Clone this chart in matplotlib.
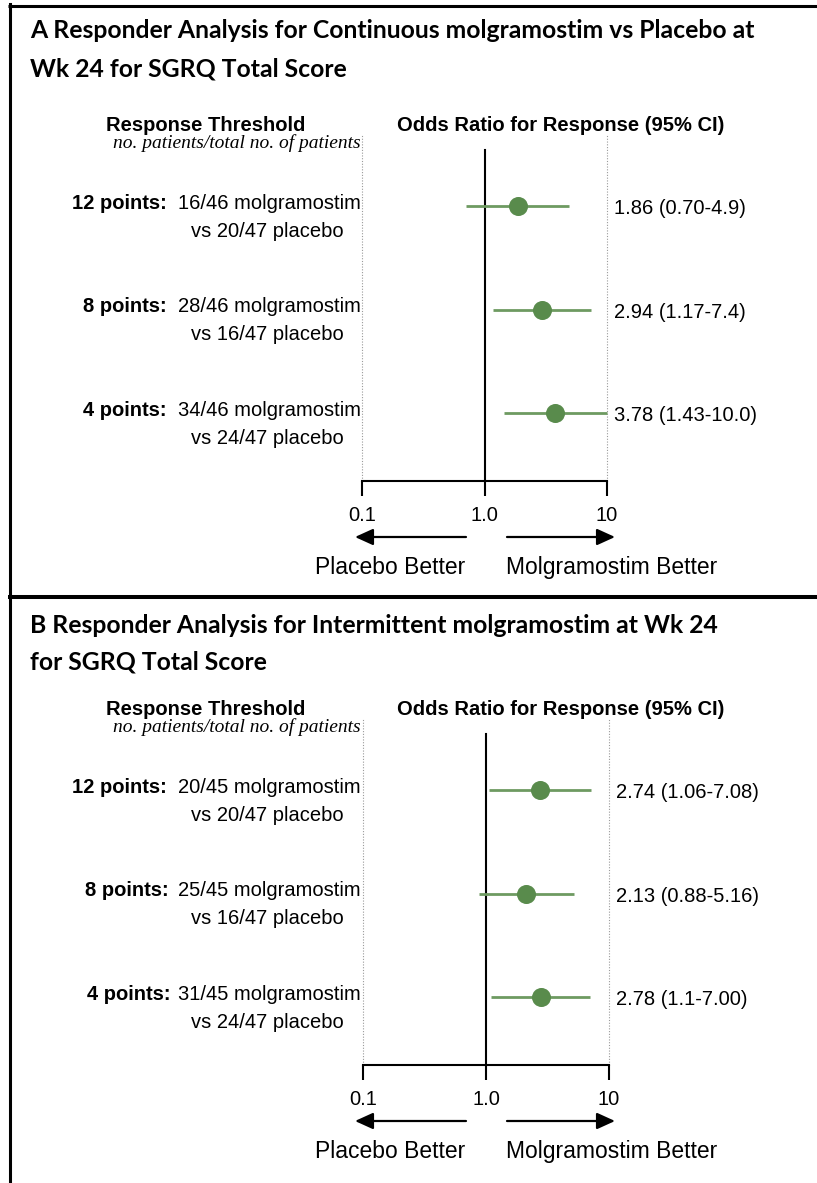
"""Forest plots: responder analysis for SGRQ total score at week 24."""
import matplotlib
matplotlib.use("Agg")
import matplotlib.pyplot as plt
from matplotlib.lines import Line2D
from matplotlib.patches import FancyArrowPatch
from matplotlib.ticker import NullLocator

W, H = 817, 1183

thresholds = ["12 points:", "8 points:", "4 points:"]

# Continuous molgramostim vs placebo
cont_mol = ["16/46", "28/46", "34/46"]
cont_pbo = ["20/47", "16/47", "24/47"]
cont_or = ["1.86", "2.94", "3.78"]
cont_lo = ["0.70", "1.17", "1.43"]
cont_hi = ["4.9", "7.4", "10.0"]

# Intermittent molgramostim vs placebo
int_mol = ["20/45", "25/45", "31/45"]
int_pbo = ["20/47", "16/47", "24/47"]
int_or = ["2.74", "2.13", "2.78"]
int_lo = ["1.06", "0.88", "1.1"]
int_hi = ["7.08", "5.16", "7.00"]

ticks = [0.1, 1.0, 10]
tick_labels = ["0.1", "1.0", "10"]

SANS = ["Liberation Sans", "DejaVu Sans"]
TITLE_FONT = ["Lato", "DejaVu Sans"]
SERIF = ["Liberation Serif", "DejaVu Serif"]
DOT = "#598b4c"
BAR = "#6e9a61"

plt.rcParams.update({
    "font.family": SANS,
    "font.size": 14.5,
})

fig = plt.figure(figsize=(W / 100, H / 100), dpi=100)


def fx(x):
    return x / W


def fy(y):
    return 1 - y / H


def txt(x, y, s, **kw):
    kw.setdefault("va", "baseline")
    fig.text(fx(x), fy(y), s, **kw)


def hline(x0, x1, y, lw):
    fig.add_artist(Line2D([fx(x0), fx(x1)], [fy(y), fy(y)], color="black",
                          lw=lw, transform=fig.transFigure, solid_capstyle="butt"))


def arrow(x_tail, x_head, y):
    fig.add_artist(FancyArrowPatch((fx(x_tail), fy(y)), (fx(x_head), fy(y)),
                                   transform=fig.transFigure,
                                   arrowstyle="-|>,head_length=1.1,head_width=0.5",
                                   mutation_scale=10, lw=1.6, color="black",
                                   shrinkA=0, shrinkB=0))


def panel(title, title_y, dy, mol, pbo, odds, lo, hi, x0, x1, lab_right):
    # title (two lines)
    for line, ty in zip(title, title_y):
        txt(30, ty, line, fontsize=17.8, fontweight="bold", family=TITLE_FONT)

    # column headings
    txt(206, 131 + dy, "Response Threshold", ha="center", fontweight="bold")
    txt(361, 148 + dy, "no. patients/total no. of patients", ha="right",
        family=SERIF, style="italic", fontsize=14)
    txt(561, 131 + dy, "Odds Ratio for Response (95% CI)",
        ha="center", fontweight="bold")

    # forest axes
    top, bottom, row0, step = 135 + dy, 481 + dy, 206 + dy, 103.5
    ax = fig.add_axes([fx(x0), fy(bottom), (x1 - x0) / W, (bottom - top) / H])
    ax.set_xscale("log")
    ax.set_xlim(0.1, 10)
    ax.set_ylim((bottom - row0) / step, (top - row0) / step)
    ax.set_facecolor("none")
    for side in ("top", "left", "right"):
        ax.spines[side].set_visible(False)
    ax.spines["bottom"].set_linewidth(1.5)
    ax.set_yticks([])
    ax.set_xticks(ticks)
    ax.set_xticklabels(tick_labels)
    ax.xaxis.set_minor_locator(NullLocator())
    ax.tick_params(axis="x", length=11, width=1.5, pad=7, labelsize=14.5)

    ymin, ymax = ax.get_ylim()
    for xv in (0.1, 10):
        ax.axvline(xv, color="#9a9a9a", lw=0.8, ls=(0, (1, 1.5)), clip_on=False)
    ax.plot([1, 1], [ymin, (150 + dy - row0) / step], color="black", lw=1.5,
            clip_on=False)

    for i in range(len(odds)):
        ax.plot([float(lo[i]), float(hi[i])], [i, i], color=BAR, lw=2,
                solid_capstyle="butt", clip_on=False, zorder=3)
        ax.plot(float(odds[i]), i, "o", ms=13.7, color=DOT, mec="none",
                clip_on=False, zorder=4)
        ry = row0 + step * i
        txt(x1 + 7, ry + 8, f"{odds[i]} ({lo[i]}-{hi[i]})")
        txt(lab_right[i], ry + 3, thresholds[i], ha="right", fontweight="bold")
        txt(361, ry + 3, f"{mol[i]} molgramostim", ha="right")
        txt(267, ry + 31, f"vs {pbo[i]} placebo", ha="center")

    # direction arrows
    arrow(466, 355, 537 + dy)
    arrow(507, 615, 537 + dy)
    txt(390, 574 + dy, "Placebo Better", ha="center", fontsize=16.5)
    txt(612, 574 + dy, "Molgramostim Better", ha="center", fontsize=16.5)


panel(["A Responder Analysis for Continuous molgramostim vs Placebo at",
       "Wk 24 for SGRQ Total Score"], [38, 77], 0,
      cont_mol, cont_pbo, cont_or, cont_lo, cont_hi, 362, 607, [167, 167, 167])

panel(["B Responder Analysis for Intermittent molgramostim at Wk 24",
       "for SGRQ Total Score"], [633, 669], 584,
      int_mol, int_pbo, int_or, int_lo, int_hi, 363, 609, [167, 169, 171])

# frame: top rule, left rule and divider between panels
hline(8, W, 5.5, 2.2)
hline(8, W, 597, 2.9)
fig.add_artist(Line2D([fx(9.5), fx(9.5)], [fy(4), fy(H)], color="black",
                      lw=2.2, transform=fig.transFigure))

fig.savefig("out.png", dpi=100)
